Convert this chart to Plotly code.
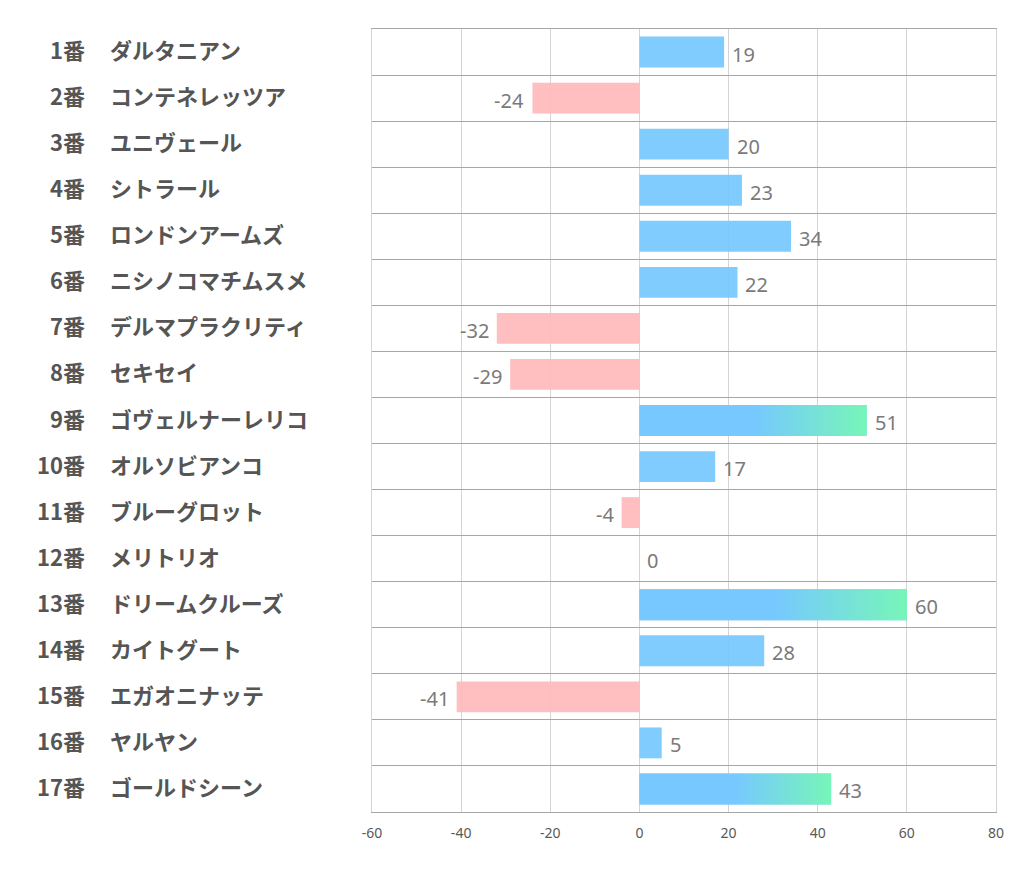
import plotly.graph_objects as go

numbers = ["1番", "2番", "3番", "4番", "5番", "6番", "7番", "8番", "9番", "10番",
           "11番", "12番", "13番", "14番", "15番", "16番", "17番"]
names = ["ダルタニアン", "コンテネレッツア", "ユニヴェール", "シトラール", "ロンドンアームズ",
         "ニシノコマチムスメ", "デルマプラクリティ", "セキセイ", "ゴヴェルナーレリコ", "オルソビアンコ",
         "ブルーグロット", "メリトリオ", "ドリームクルーズ", "カイトグート", "エガオニナッテ",
         "ヤルヤン", "ゴールドシーン"]
values = [19, -24, 20, 23, 34, 22, -32, -29, 51, 17, -4, 0, 60, 28, -41, 5, 43]
x_ticks = [-60, -40, -20, 0, 20, 40, 60, 80]

BLUE = "rgba(118,200,255,0.93)"
PINK = "rgba(255,184,187,0.92)"
GREEN = "rgba(118,248,180,0.95)"
BAR_H = 0.67
GRAD_THRESHOLD = 40

idx = list(range(len(values)))
colors = [BLUE if v >= 0 else PINK for v in values]

fig = go.Figure()
fig.add_trace(go.Bar(
    x=values, y=idx, orientation="h", width=BAR_H,
    marker=dict(color=colors, line=dict(width=0)),
    hoverinfo="skip", showlegend=False,
))

# gradient overlays for large bars
for i, v in zip(idx, values):
    if v > GRAD_THRESHOLD:
        h = BAR_H / 2
        fig.add_trace(go.Scatter(
            x=[0, v, v, 0, 0], y=[i - h, i - h, i + h, i + h, i - h],
            mode="lines", line=dict(width=0), fill="toself",
            fillgradient=dict(type="horizontal", start=0, stop=v,
                              colorscale=[[0, BLUE], [0.5, BLUE], [1, GREEN]]),
            hoverinfo="skip", showlegend=False,
        ))

label_font = dict(family="Noto Sans CJK JP", size=22, color="#555555", weight="bold")
annotations = []
for i, v in zip(idx, values):
    annotations.append(dict(
        x=v, y=i, xref="x", yref="y", text=str(v), showarrow=False,
        xanchor="left" if v >= 0 else "right", xshift=6 if v >= 0 else -6,
        yshift=-2,
        font=dict(family="Noto Sans, Open Sans, sans-serif", size=20, color="#7a7a7a"),
    ))
    annotations.append(dict(
        x=-0.457, y=i, xref="paper", yref="y", text=numbers[i], showarrow=False,
        xanchor="right", yshift=3, font=label_font,
    ))
    annotations.append(dict(
        x=-0.423, y=i, xref="paper", yref="y", text=names[i], showarrow=False,
        xanchor="left", yshift=3, font=label_font,
    ))

fig.update_layout(
    width=1008, height=873,
    margin=dict(l=364, r=20, t=21, b=69),
    plot_bgcolor="white", paper_bgcolor="white",
    annotations=annotations,
    xaxis=dict(
        range=[-60, 80], tickvals=x_ticks, ticktext=[str(t) for t in x_ticks],
        showgrid=True, gridcolor="#d4d4d4", gridwidth=1,
        zeroline=False, showline=True, linecolor="#a6a6a6", linewidth=1.3, mirror=True,
        ticks="", ticklabelstandoff=8,
        tickfont=dict(family="Noto Sans, Open Sans, sans-serif", size=14, color="#595959"),
    ),
    yaxis=dict(
        range=[len(values) - 0.5, -0.5],
        tickvals=[i + 0.5 for i in range(-1, len(values))],
        showticklabels=False, showgrid=True, gridcolor="#a6a6a6", gridwidth=1.3,
        zeroline=False, showline=True, linecolor="#d4d4d4", mirror=True, ticks="",
    ),
    bargap=0.33,
)

fig.write_html("out.html")
